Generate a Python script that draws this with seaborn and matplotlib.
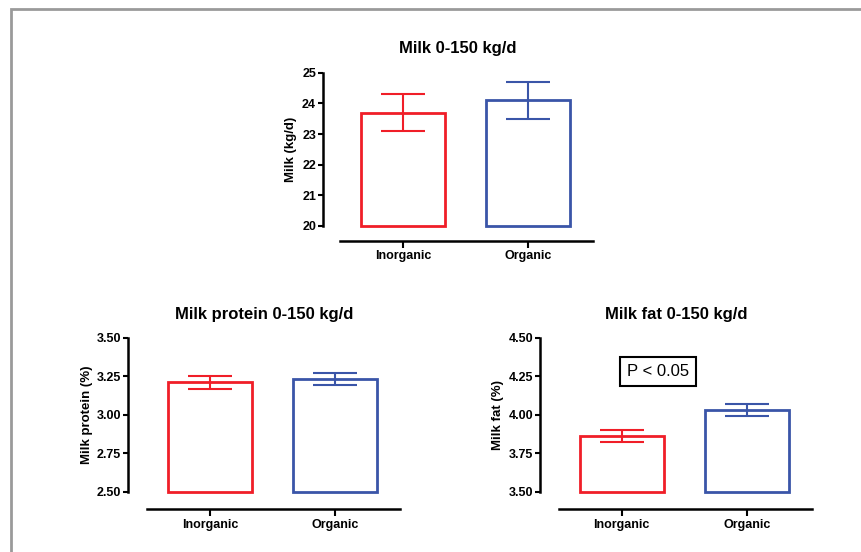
import pandas as pd
import matplotlib.pyplot as plt
from matplotlib.patches import Rectangle
import seaborn as sns

sns.set_style("ticks")
plt.rcParams["font.family"] = ["Liberation Sans", "DejaVu Sans"]
plt.rcParams["font.weight"] = "bold"
plt.rcParams["axes.labelweight"] = "bold"
plt.rcParams["axes.titleweight"] = "bold"
plt.rcParams["text.color"] = "black"
plt.rcParams["axes.labelcolor"] = "black"
plt.rcParams["axes.edgecolor"] = "black"
plt.rcParams["xtick.color"] = "black"
plt.rcParams["ytick.color"] = "black"

# Data (mean +/- error)
groups = ["Inorganic", "Organic"]
colors = ["#f01e28", "#3a55a8"]

milk_mean = [23.7, 24.1]
milk_err = [0.6, 0.6]
protein_mean = [3.21, 3.23]
protein_err = [0.04, 0.04]
fat_mean = [3.86, 4.03]
fat_err = [0.04, 0.04]

milk_ticks = [20, 21, 22, 23, 24, 25]
protein_ticks = [2.50, 2.75, 3.00, 3.25, 3.50]
fat_ticks = [3.50, 3.75, 4.00, 4.25, 4.50]

fig = plt.figure(figsize=(8.62, 5.52), dpi=100)


def panel(rect, means, errs, ticks, fmt, ylabel, title, xleft, label_x, offset, tpad):
    ax = fig.add_axes(rect)
    df = pd.DataFrame({"group": groups, "value": means})
    sns.barplot(data=df, x="group", y="value", hue="group", palette=colors,
                fill=False, width=0.67, linewidth=2.0, errorbar=None,
                legend=False, ax=ax)
    base = ticks[0]
    # bars start at the axis floor, not at zero
    for p in ax.patches:
        i = int(round(p.get_x() + p.get_width() / 2))
        p.set_y(base)
        p.set_height(means[i] - base)
        p.set_clip_on(False)
    for i in range(len(groups)):
        ax.errorbar(i, means[i], yerr=errs[i], color=colors[i], capsize=16,
                    elinewidth=1.5, capthick=1.5, clip_on=False)
    ax.set_xlim(xleft, 1.52)
    ax.set_ylim(ticks[0], ticks[-1])
    ax.set_yticks(ticks)
    ax.set_yticklabels([fmt.format(t) for t in ticks])
    ax.set_xticks([0, 1])
    ax.set_xticklabels(groups)
    ax.spines["top"].set_visible(False)
    ax.spines["right"].set_visible(False)
    for s in ("left", "bottom"):
        ax.spines[s].set_linewidth(1.8)
    ax.spines["bottom"].set_position(("outward", offset))
    ax.spines["bottom"].set_bounds(-0.5, 1.52)
    ax.tick_params(axis="y", length=3.5, width=1.5, pad=1.5, labelsize=9)
    ax.tick_params(axis="x", length=5, width=1.5, pad=2, labelsize=9)
    ax.set_xlabel("")
    ax.set_ylabel(ylabel, fontsize=9.5)
    ax.yaxis.set_label_coords(label_x, 0.5)
    ax.set_title(title, fontsize=12, pad=tpad)
    return ax


panel([323 / 862, 0.5906, 270 / 862, 0.2777], milk_mean, milk_err, milk_ticks,
      "{:.0f}", "Milk (kg/d)", "Milk 0-150 kg/d", -0.64, -0.098, 10.5, 14)
panel([128 / 862, 0.1092, 272 / 862, 0.279], protein_mean, protein_err,
      protein_ticks, "{:.2f}", "Milk protein (%)", "Milk protein 0-150 kg/d",
      -0.656, -0.128, 12.5, 13.5)
ax3 = panel([540 / 862, 0.1092, 272 / 862, 0.279], fat_mean, fat_err, fat_ticks,
            "{:.2f}", "Milk fat (%)", "Milk fat 0-150 kg/d", -0.652, -0.131,
            12.5, 13.5)

ax3.text(0.29, 4.28, "P < 0.05", ha="center", va="center", fontsize=12,
         fontweight="normal",
         bbox=dict(boxstyle="square,pad=0.4", fc="white", ec="black", lw=1.5))

# grey frame around the figure (open to the right and bottom)
fig.patches.append(Rectangle((11 / 862, -0.2), 1.2, 1.2 - 9 / 552,
                             transform=fig.transFigure, fill=False,
                             edgecolor="#9a9a9a", lw=2))

plt.savefig("out.png", dpi=100)
